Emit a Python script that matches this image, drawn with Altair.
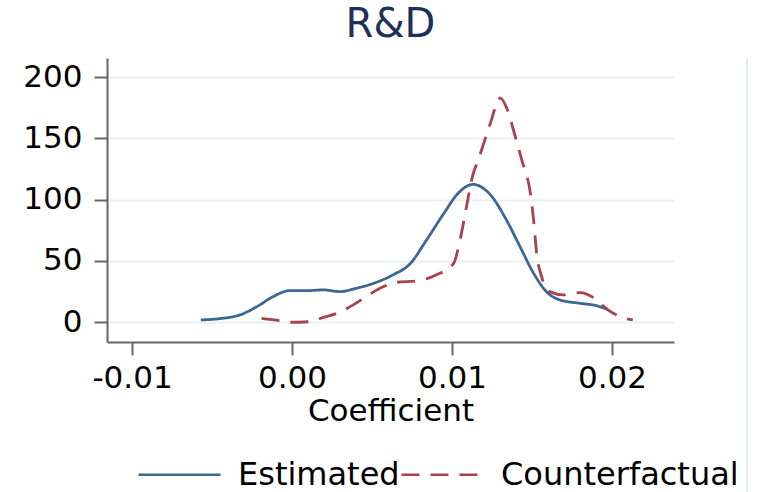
import altair as alt
import pandas as pd

# Estimated (solid blue) density curve
est_x = [-0.0057, -0.0045, -0.00325, -0.0022, -0.00117, -0.00014, 0.00092, 0.00196,
         0.003, 0.004, 0.0051, 0.0063, 0.0074, 0.0084, 0.0095, 0.0103, 0.0108, 0.0113,
         0.0124, 0.0134, 0.01425, 0.0151, 0.0159, 0.01675, 0.018, 0.019, 0.0197]
est_y = [1.9, 3, 6, 12.7, 21, 25.8, 25.8, 26.4,
         25, 27.7, 31.8, 38.6, 48, 67, 89, 104, 110, 112.5,
         104, 83.5, 61.7, 40, 25, 18.2, 15.5, 13.6, 10.6]

# Counterfactual (dashed red) density curve
cf_x = [-0.0019, -0.00075, -0.00012, 0.0011, 0.00196, 0.0028, 0.0038, 0.0047, 0.0055,
        0.00654, 0.0078, 0.009, 0.0101, 0.0105, 0.0109, 0.0113, 0.01164, 0.0124, 0.0129,
        0.0130, 0.01342, 0.0139, 0.01436, 0.0149, 0.0151, 0.01529, 0.0156, 0.0161, 0.017,
        0.018, 0.0189, 0.0197, 0.0205, 0.0213]
cf_y = [3.2, 1.3, 0, 0.5, 4, 7.3, 14, 21.5, 27.7,
        32.6, 33.7, 38.6, 48, 67, 94, 120, 132.5, 162.5, 181.5,
        183, 174.7, 154, 132.5, 105, 83.5, 56.3, 37.2, 25, 22.3,
        24.2, 19.6, 10.6, 4.6, 1.9]

series_names = ["Estimated", "Counterfactual"]
series_colors = ["#3a6794", "#a9424e"]
x_ticks = [-0.01, 0.0, 0.01, 0.02]
y_ticks = [0, 50, 100, 150, 200]

df = pd.concat([
    pd.DataFrame({"x": est_x, "y": est_y, "series": "Estimated", "order": range(len(est_x))}),
    pd.DataFrame({"x": cf_x, "y": cf_y, "series": "Counterfactual", "order": range(len(cf_x))}),
])

FONT = "DejaVu Sans"

leg = alt.Legend(
    title=None, orient="none", legendX=30, legendY=374, direction="horizontal",
    symbolType="stroke", symbolSize=6724, symbolStrokeWidth=2.5,
    labelFont=FONT, labelFontSize=32, labelColor="black", labelOffset=16,
    columnPadding=-28, padding=0, labelLimit=400,
)

lines = alt.Chart(df).mark_line(strokeWidth=2.8, interpolate="monotone").encode(
    x=alt.X("x:Q", title="Coefficient",
            scale=alt.Scale(domain=[-0.011563, 0.023875], nice=False, zero=False),
            axis=alt.Axis(values=x_ticks, grid=False,
                          labelExpr="datum.value < 0 ? '-' + format(abs(datum.value), '.2f') : format(datum.value, '.2f')")),
    y=alt.Y("y:Q", title=None,
            scale=alt.Scale(domain=[-16.1, 215.6], nice=False, zero=False),
            axis=alt.Axis(values=y_ticks, grid=True)),
    color=alt.Color("series:N", scale=alt.Scale(domain=series_names, range=series_colors), legend=leg),
    strokeDash=alt.StrokeDash("series:N", scale=alt.Scale(domain=series_names, range=[[1, 0], [18, 11]]), legend=leg),
    order="order:Q",
)

border = alt.Chart(pd.DataFrame({"a": [0]})).mark_rule(color="#e6ecef", strokeWidth=2).encode(
    x=alt.value(640), y=alt.value(0), y2=alt.value(434)
)

chart = alt.layer(lines, border).properties(
    width=567, height=284,
    padding={"left": 107, "top": 58, "right": 85, "bottom": 150},
    autosize="none",
    title=alt.TitleParams(text="R&D", font=FONT, fontSize=40, fontWeight="normal",
                          color="#1f2f5c", anchor="middle", frame="group", offset=12),
).configure_view(stroke=None).configure_axis(
    domainColor="#666666", domainWidth=2, tickColor="#666666", tickWidth=2, tickSize=13,
    labelFont=FONT, labelFontSize=31, labelColor="black",
    titleFont=FONT, titleFontSize=31, titleColor="black", titleFontWeight="normal",
    gridColor="#e8f0f3", gridWidth=2,
).configure_axisY(labelPadding=12).configure_axisX(labelPadding=8, titlePadding=3)

chart.save("out.html", embed_options={"renderer": "svg", "actions": False})
